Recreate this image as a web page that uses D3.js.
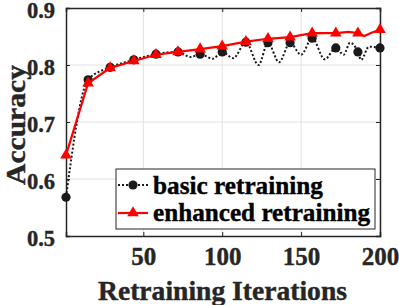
<!DOCTYPE html>
<html><head><meta charset="utf-8">
<script src="https://cdn.jsdelivr.net/npm/d3@7"></script>
<style>body{margin:0;background:#fff}svg{display:block}</style>
</head><body>
<script>
// Data
const markerIters = [1, 15, 29, 44, 58, 72, 86, 100, 115, 129, 143, 157, 172, 186, 200];
const basicIters = [1, 15, 29, 44, 58, 72, 80, 86, 94, 100, 107, 115, 123, 129, 136, 143, 150, 157, 165, 172, 177, 181, 186, 188, 193, 200];
const basicValues = [0.568, 0.774, 0.796, 0.809, 0.819, 0.823, 0.814, 0.819, 0.811, 0.823, 0.812, 0.840, 0.800, 0.839, 0.805, 0.839, 0.818, 0.847, 0.810, 0.830, 0.818, 0.839, 0.823, 0.809, 0.832, 0.830];
const enhancedIters = [1, 15, 29, 44, 58, 72, 86, 100, 115, 129, 143, 157, 172, 180, 186, 190, 195, 200];
const enhancedValues = [0.642, 0.768, 0.795, 0.807, 0.818, 0.823, 0.828, 0.833, 0.841, 0.846, 0.849, 0.856, 0.856, 0.858, 0.856, 0.851, 0.857, 0.862];
const xTicks = [50, 100, 150, 200];
const yTicks = [0.5, 0.6, 0.7, 0.8, 0.9];
const seriesNames = ["basic retraining", "enhanced retraining"];

const W = 399, H = 305;
const m = {l: 66, r: 19, t: 8, b: 69};
const svg = d3.select("body").append("svg").attr("width", W).attr("height", H);
const x = d3.scaleLinear().domain([1, 200]).range([m.l, W - m.r]);
const y = d3.scaleLinear().domain([0.5, 0.9]).range([H - m.b, m.t]);
const font = "'Liberation Serif','Times New Roman',serif";
const txt = "#262626";

// grid
svg.append("g").selectAll("line").data(xTicks).join("line")
  .attr("x1", d => x(d)).attr("x2", d => x(d)).attr("y1", m.t).attr("y2", H - m.b)
  .attr("stroke", "#e1e1e1").attr("stroke-width", 1);
svg.append("g").selectAll("line").data(yTicks.slice(1, -1)).join("line")
  .attr("y1", d => y(d)).attr("y2", d => y(d)).attr("x1", m.l).attr("x2", W - m.r)
  .attr("stroke", "#e1e1e1").attr("stroke-width", 1);

// axes
const xAxis = d3.axisBottom(x).tickValues(xTicks).tickSize(-4).tickPadding(11).tickFormat(d3.format("d"));
const yAxis = d3.axisLeft(y).tickValues(yTicks).tickSize(-4).tickPadding(11).tickFormat(d3.format(".1f"));
const gx = svg.append("g").attr("transform", `translate(0,${H - m.b})`).call(xAxis);
const gy = svg.append("g").attr("transform", `translate(${m.l},0)`).call(yAxis);
const gyr = svg.append("g").attr("transform", `translate(${W - m.r},0)`).call(d3.axisRight(y).tickValues(yTicks).tickSize(-4).tickFormat(""));
const gxt = svg.append("g").attr("transform", `translate(0,${m.t})`).call(d3.axisTop(x).tickValues(xTicks).tickSize(-4).tickFormat(""));
[gx, gy, gyr, gxt].forEach(g => {
  g.select(".domain").attr("stroke", "#262626").attr("stroke-width", 1.5);
  g.selectAll(".tick line").attr("stroke", "#262626").attr("stroke-width", 1);
  g.selectAll(".tick text").attr("fill", txt).attr("font-family", font).attr("font-weight", "bold")
    .attr("stroke", txt).attr("stroke-width", 0.4);
});
gx.selectAll(".tick text").attr("font-size", 25);
gy.selectAll(".tick text").attr("font-size", 22.5).attr("dy", "0.4em");

// lines
const basic = basicIters.map((d, i) => [d, basicValues[i]]);
const enh = enhancedIters.map((d, i) => [d, enhancedValues[i]]);
const line = d3.line().x(d => x(d[0])).y(d => y(d[1])).curve(d3.curveMonotoneX);
svg.append("path").datum(basic).attr("d", line).attr("fill", "none")
  .attr("stroke", "#1a1a1a").attr("stroke-width", 2).attr("stroke-dasharray", "2,2");
svg.selectAll(".bm").data(basic.filter(d => markerIters.includes(d[0]))).join("circle")
  .attr("cx", d => x(d[0])).attr("cy", d => y(d[1])).attr("r", 4.6).attr("fill", "#1a1a1a");
svg.append("path").datum(enh).attr("d", d3.line().x(d => x(d[0])).y(d => y(d[1]))).attr("fill", "none")
  .attr("stroke", "#ff0000").attr("stroke-width", 2.2);
const tri = d3.symbol().type(d3.symbolTriangle).size(58);
svg.selectAll(".em").data(enh.filter(d => markerIters.includes(d[0]))).join("path")
  .attr("d", tri).attr("transform", d => `translate(${x(d[0])},${y(d[1])})`).attr("fill", "#ff0000");

// axis labels
svg.append("text").attr("x", 222.5).attr("y", 300).attr("text-anchor", "middle")
  .attr("font-family", font).attr("font-weight", "bold").attr("font-size", 27.5).attr("fill", txt)
  .attr("stroke", txt).attr("stroke-width", 0.4)
  .attr("textLength", 249).attr("lengthAdjust", "spacingAndGlyphs")
  .text("Retraining Iterations");
svg.append("text").attr("transform", `translate(25,125) rotate(-90)`).attr("text-anchor", "middle")
  .attr("font-family", font).attr("font-weight", "bold").attr("font-size", 28).attr("fill", txt)
  .attr("stroke", txt).attr("stroke-width", 0.4)
  .attr("textLength", 120).attr("lengthAdjust", "spacingAndGlyphs")
  .text("Accuracy");

// legend
const lg = svg.append("g");
lg.append("rect").attr("x", 116).attr("y", 169).attr("width", 259).attr("height", 60)
  .attr("fill", "#fff").attr("stroke", "#262626").attr("stroke-width", 1);
const rows = [185, 213];
const baselines = [194, 221];
const legW = [170, 217];
lg.append("line").attr("x1", 118).attr("x2", 148).attr("y1", rows[0]).attr("y2", rows[0])
  .attr("stroke", "#1a1a1a").attr("stroke-width", 2).attr("stroke-dasharray", "2,2");
lg.append("circle").attr("cx", 133).attr("cy", rows[0]).attr("r", 4.6).attr("fill", "#1a1a1a");
lg.append("line").attr("x1", 118).attr("x2", 148).attr("y1", rows[1]).attr("y2", rows[1])
  .attr("stroke", "#ff0000").attr("stroke-width", 2.2);
lg.append("path").attr("d", tri).attr("transform", `translate(133,${rows[1]})`).attr("fill", "#ff0000");
lg.selectAll("text.l").data(seriesNames).join("text")
  .attr("x", 153).attr("y", (d, i) => baselines[i])
  .attr("font-family", font).attr("font-weight", "bold").attr("font-size", 25).attr("fill", "#000")
  .attr("stroke", "#000").attr("stroke-width", 0.4)
  .attr("textLength", (d, i) => legW[i]).attr("lengthAdjust", "spacingAndGlyphs")
  .text(d => d);
</script>
</body></html>
